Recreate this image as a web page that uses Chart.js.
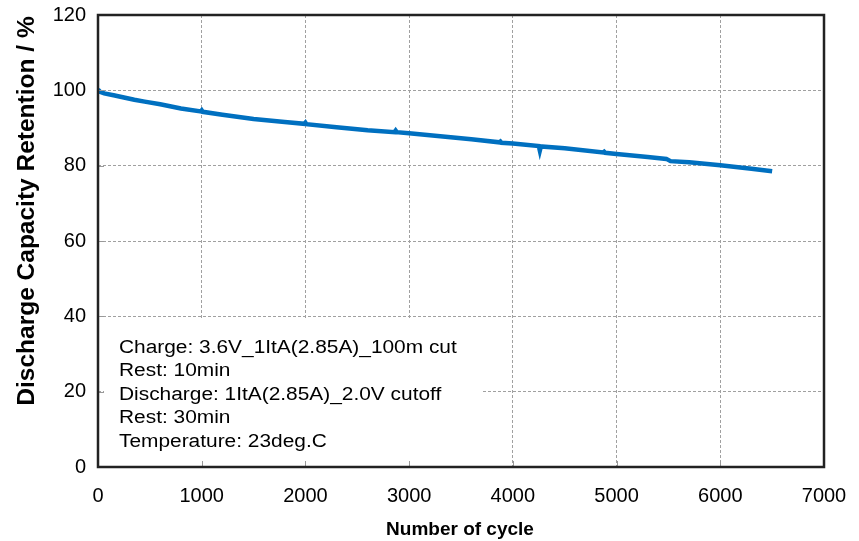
<!DOCTYPE html>
<html>
<head>
<meta charset="utf-8">
<script src="https://cdn.jsdelivr.net/npm/chart.js@4.4.0/dist/chart.umd.min.js"></script>
<style>
  html, body { margin: 0; padding: 0; background: #fff; }
  #wrap { width: 859px; height: 541px; }
</style>
</head>
<body>
<div id="wrap"><canvas id="cycleChart"></canvas></div>
<script>
// cycle number vs capacity retention (%)
const cycles = [0, 20, 60, 150, 250, 350, 450, 600, 800, 990, 1000, 1010, 1200, 1500, 1800, 1990, 2000, 2010,
  2300, 2600, 2860, 2870, 2880, 3000, 3300, 3600, 3870, 3880, 3890, 4000, 4250, 4260, 4270, 4500, 4870, 4880, 4890,
  5000, 5300, 5480, 5520, 5700, 6000, 6300, 6500];
const retention = [100.2, 99.6, 99.2, 98.7, 98.1, 97.5, 97.0, 96.3, 95.2, 94.4, 94.7, 94.3, 93.5, 92.4, 91.6, 91.1, 91.4, 91.0,
  90.2, 89.4, 88.9, 89.3, 88.9, 88.6, 87.8, 87.0, 86.2, 86.4, 86.1, 85.9, 85.2, 84.0, 85.1, 84.6, 83.5, 83.7, 83.4,
  83.1, 82.3, 81.8, 81.2, 80.9, 80.1, 79.2, 78.5];
const yTicks = [0, 20, 40, 60, 80, 100, 120];
const xTicks = [0, 1000, 2000, 3000, 4000, 5000, 6000, 7000];
const xTitle = 'Number of cycle';
const yTitle = 'Discharge Capacity Retention / %';
const noteLines = [
  'Charge: 3.6V_1ItA(2.85A)_100m cut',
  'Rest: 10min',
  'Discharge: 1ItA(2.85A)_2.0V cutoff',
  'Rest: 30min',
  'Temperature: 23deg.C'
];

const FONT = '"Liberation Sans", Arial, sans-serif';

const notePlugin = {
  id: 'notes',
  beforeDatasetsDraw(chart) {
    const ctx = chart.ctx;
    const a = chart.chartArea;
    ctx.save();
    ctx.fillStyle = '#fff';
    ctx.fillRect(104, 319, 379, a.bottom - 319);
    ctx.fillStyle = '#000';
    ctx.font = '18px ' + FONT;
    ctx.textBaseline = 'middle';
    noteLines.forEach((t, i) => {
      ctx.save();
      ctx.translate(119, 348 + i * 23.4);
      ctx.scale(1.16, 1);
      ctx.fillText(t, 0, 0);
      ctx.restore();
    });
    ctx.restore();
  },
  afterDraw(chart) {
    const a = chart.chartArea;
    const ctx = chart.ctx;
    const xs = chart.scales.x, ys = chart.scales.y;
    ctx.save();
    ctx.strokeStyle = '#999';
    ctx.lineWidth = 1;
    ctx.beginPath();
    xTicks.forEach(v => { const px = Math.round(xs.getPixelForValue(v)) + 0.5; ctx.moveTo(px, a.bottom); ctx.lineTo(px, a.bottom - 6); });
    yTicks.forEach(v => { const py = Math.round(ys.getPixelForValue(v)) + 0.5; ctx.moveTo(a.left, py); ctx.lineTo(a.left + 6, py); });
    ctx.stroke();
    ctx.strokeStyle = '#222';
    ctx.lineWidth = 2.5;
    ctx.strokeRect(a.left, a.top, a.right - a.left, a.bottom - a.top);
    // axis titles
    ctx.fillStyle = '#000';
    ctx.textAlign = 'center';
    ctx.textBaseline = 'middle';
    ctx.font = 'bold 19px ' + FONT;
    ctx.fillText(xTitle, 460, 530);
    ctx.translate(27, 211);
    ctx.rotate(-Math.PI / 2);
    ctx.font = 'bold 24.5px ' + FONT;
    ctx.fillText(yTitle, 0, 0);
    ctx.restore();
  }
};

new Chart(document.getElementById('cycleChart'), {
  type: 'scatter',
  data: {
    datasets: [{
      data: cycles.map((c, i) => ({ x: c, y: retention[i] })),
      showLine: true,
      borderColor: '#0070C0',
      backgroundColor: '#0070C0',
      borderWidth: 4.5,
      pointRadius: 0,
      tension: 0
    }]
  },
  options: {
    responsive: true,
    maintainAspectRatio: false,
    animation: false,
    layout: { padding: { top: 15, right: 35, left: 0, bottom: 0 } },
    plugins: { legend: { display: false }, tooltip: { enabled: false } },
    scales: {
      x: {
        type: 'linear',
        min: 0, max: 7000,
        afterBuildTicks: s => { s.ticks = xTicks.map(v => ({ value: v })); },
        afterFit: s => { s.height = 74; s.paddingLeft = 0; s.paddingRight = 0; },
        grid: { color: '#a0a0a0', drawTicks: false, tickLength: 0 },
        border: { display: false, dash: [3, 2] },
        ticks: { color: '#000', font: { family: FONT, size: 20 }, padding: 17, maxRotation: 0, callback: v => String(v) },
        title: { display: false }
      },
      y: {
        min: 0, max: 120,
        afterBuildTicks: s => { s.ticks = yTicks.map(v => ({ value: v })); },
        afterFit: s => { s.width = 98; s.paddingTop = 0; s.paddingBottom = 0; },
        grid: { color: '#a0a0a0', drawTicks: false, tickLength: 0 },
        border: { display: false, dash: [3, 2] },
        ticks: { color: '#000', font: { family: FONT, size: 20 }, padding: 12, callback: v => String(v) },
        title: { display: false }
      }
    }
  },
  plugins: [notePlugin]
});
</script>
</body>
</html>
